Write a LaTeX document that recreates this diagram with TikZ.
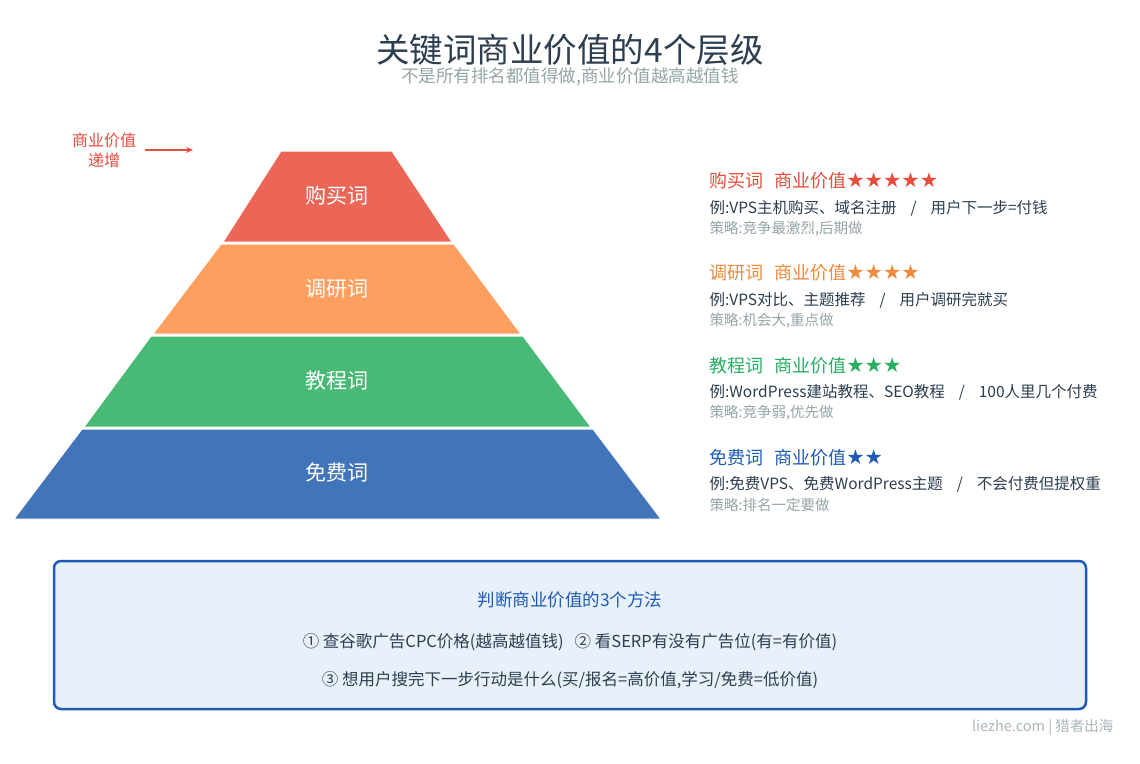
\documentclass[tikz,border=0pt]{standalone}
\usepackage{fontspec}
\setmainfont{Noto Sans CJK SC}
\newfontfamily\starf{DejaVu Sans}
\usetikzlibrary{arrows.meta}
\begin{document}
\begin{tikzpicture}[x=1pt,y=-1pt,
  lay/.style={draw=white,line width=1pt},
  lt/.style={text=white,font=\fontsize{21}{23}\selectfont},
  hd/.style={anchor=west,font=\fontsize{18}{20}\selectfont},
  ex/.style={anchor=west,text=dark,font=\fontsize{15.5}{17}\selectfont},
  st/.style={anchor=west,text=grayt,font=\fontsize{14.5}{16}\selectfont}]
\definecolor{cr}{HTML}{EB6657}\definecolor{co}{HTML}{FF9F5F}
\definecolor{cg}{HTML}{48BA75}\definecolor{cb}{HTML}{4274BA}
\definecolor{tr}{HTML}{E74C3C}\definecolor{to}{HTML}{F08A3C}
\definecolor{tg}{HTML}{27AE60}\definecolor{tb}{HTML}{1F5BB5}
\definecolor{dark}{HTML}{2C3E50}\definecolor{grayt}{HTML}{95A5A6}
\definecolor{boxf}{HTML}{E8F0FA}
\newcommand\sepx{\hspace{0.9em}/\hspace{0.9em}}
\useasboundingbox[fill=white] (0,0) rectangle (1140,763);
\node[text=dark,font=\fontsize{33.5}{36}\selectfont] (title) at (570,50) {关键词商业价值的4个层级};
\node[text=grayt,font=\fontsize{17.5}{20}\selectfont] (sub) at (570,77) {不是所有排名都值得做,商业价值越高越值钱};
% pyramid
\fill[cr,lay] (281,151)--(392,151)--(452,242)--(223,242)--cycle;
\fill[co,lay] (221,244)--(454,244)--(521,334)--(153,334)--cycle;
\fill[cg,lay] (151,336)--(523,336)--(591,427)--(84,427)--cycle;
\fill[cb,lay] (82,429)--(593,429)--(661,519)--(14,519)--cycle;
\node[lt] (l1) at (337,196) {购买词};
\node[lt] (l2) at (337,289) {调研词};
\node[lt] (l3) at (337,381) {教程词};
\node[lt] (l4) at (337,472) {免费词};
\node[text=tr,align=center,font=\fontsize{16}{20}\selectfont] (inc) at (104,150) {商业价值\\递增};
\coordinate (a1) at (145,150); \coordinate (a2) at (193,150);
\draw[tr,line width=2pt,-{Stealth[length=7pt,width=6pt]}] (a1)--(a2);
% right text
\node[hd,text=tr] (h1) at (706,181) {购买词\hspace{0.6em}商业价值{\starf\fontsize{20.5}{21}\selectfont ★★★★★}};
\node[ex] (e1) at (706,208) {例:VPS主机购买、域名注册\sepx 用户下一步=付钱};
\node[st] (s1) at (706,229) {策略:竞争最激烈,后期做};
\node[hd,text=to] (h2) at (706,273) {调研词\hspace{0.6em}商业价值{\starf\fontsize{20.5}{21}\selectfont ★★★★}};
\node[ex] (e2) at (706,300) {例:VPS对比、主题推荐\sepx 用户调研完就买};
\node[st] (s2) at (706,321) {策略:机会大,重点做};
\node[hd,text=tg] (h3) at (706,366) {教程词\hspace{0.6em}商业价值{\starf\fontsize{20.5}{21}\selectfont ★★★}};
\node[ex] (e3) at (706,392) {例:WordPress建站教程、SEO教程\sepx 100人里几个付费};
\node[st] (s3) at (706,413) {策略:竞争弱,优先做};
\node[hd,text=tb] (h4) at (706,458) {免费词\hspace{0.6em}商业价值{\starf\fontsize{20.5}{21}\selectfont ★★}};
\node[ex] (e4) at (706,484) {例:免费VPS、免费WordPress主题\sepx 不会付费但提权重};
\node[st] (s4) at (706,505) {策略:排名一定要做};
% box
\draw[tb,fill=boxf,line width=2.5pt,rounded corners=7pt] (54,561) rectangle (1086,709);
\node[text=tb,font=\fontsize{17.5}{19}\selectfont] (bt) at (570,600) {判断商业价值的3个方法};
\node[text=dark,font=\fontsize{16.5}{18}\selectfont] (b1) at (570,642) {① 查谷歌广告CPC价格(越高越值钱)\ \ \ ② 看SERP有没有广告位(有=有价值)};
\node[text=dark,font=\fontsize{16.5}{18}\selectfont] (b2) at (570,680) {③ 想用户搜完下一步行动是什么(买/报名=高价值,学习/免费=低价值)};
\node[anchor=east,text=grayt!80,font=\fontsize{14.5}{16}\selectfont] (wm) at (1117,727) {liezhe.com | 猎者出海};
\end{tikzpicture}
\end{document}
